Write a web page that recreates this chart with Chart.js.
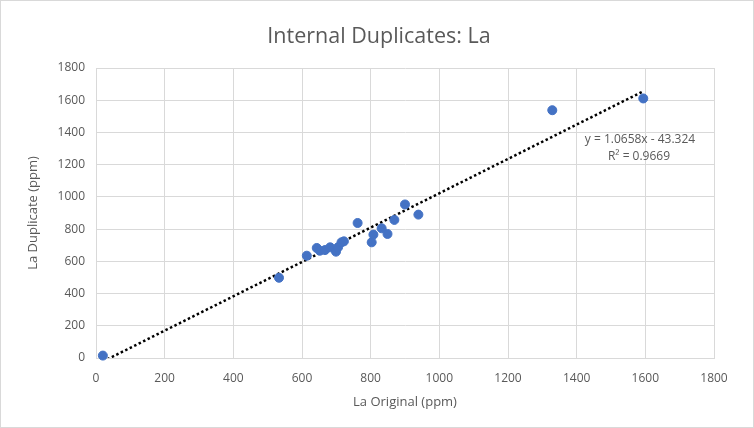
<!DOCTYPE html>
<html>
<head>
<meta charset="utf-8">
<script src="https://cdn.jsdelivr.net/npm/chart.js@4/dist/chart.umd.min.js"></script>
<style>
  html, body { margin: 0; padding: 0; background: #fff; }
  #wrap { position: relative; width: 752px; height: 426px; border: 1px solid #d9d9d9; }
</style>
</head>
<body>
<div id="wrap"><canvas id="dupChart" width="752" height="426"></canvas></div>
<script>
// Données
const originalPpm = [20, 533, 614, 643, 652, 667, 682, 699, 705, 715, 722, 762, 803, 808, 832, 849, 869, 900, 939, 1329, 1594]
const duplicatePpm = [15, 498, 635, 683, 666, 670, 687, 660, 687, 718, 724, 838, 718, 766, 805, 770, 857, 953, 890, 1538, 1611]
const axisTicks = [0, 200, 400, 600, 800, 1000, 1200, 1400, 1600, 1800]

// Courbe de tendance (Excel)
const trendSlope = 1.0658
const trendIntercept = -43.324
const trendLabel = ["y = 1.0658x - 43.324", "R² = 0.9669"]
const chartTitle = "Internal Duplicates: La"

const FONT = "'Open Sans', 'Liberation Sans', sans-serif"
const GREY = "#595959"

const points = originalPpm.map((x, i) => ({ x: x, y: duplicatePpm[i] }))
const xMin = Math.min(...originalPpm)
const xMax = Math.max(...originalPpm)
const trendPoints = [
  { x: xMin, y: trendSlope * xMin + trendIntercept },
  { x: xMax, y: trendSlope * xMax + trendIntercept },
]

// Titre centré sur toute la largeur + texte de l'équation
const textPlugin = {
  id: "texts",
  afterDatasetsDraw(chart) {
    const ctx = chart.ctx
    const area = chart.chartArea
    ctx.save()
    ctx.fillStyle = GREY
    ctx.textAlign = "center"
    ctx.textBaseline = "middle"
    ctx.font = "21.5px " + FONT
    ctx.fillText(chartTitle, chart.width / 2 + 2, 36)
    ctx.font = "12px " + FONT
    const cx = area.right - 74
    ctx.fillText(trendLabel[0], cx, area.top + 72)
    ctx.fillText(trendLabel[1], cx - 1, area.top + 89)
    ctx.restore()
  },
}

new Chart(document.getElementById("dupChart"), {
  type: "scatter",
  data: {
    datasets: [
      {
        label: "La",
        data: points,
        backgroundColor: "#4472C4",
        borderColor: "#4472C4",
        pointRadius: 4.5,
        pointHoverRadius: 4.5,
        clip: false,
        order: 1,
      },
      {
        label: "Tendance",
        type: "line",
        data: trendPoints,
        borderColor: "#000000",
        borderWidth: 2.5,
        borderDash: [2.5, 2.5],
        pointRadius: 0,
        fill: false,
        order: 2,
      },
    ],
  },
  options: {
    responsive: false,
    animation: false,
    layout: { padding: { left: 12, right: 39, top: 67, bottom: 6 } },
    plugins: {
      legend: { display: false },
      tooltip: { enabled: false },
      title: { display: false },
    },
    scales: {
      x: {
        type: "linear",
        min: 0,
        max: 1800,
        afterBuildTicks: (scale) => { scale.ticks = axisTicks.map((v) => ({ value: v })) },
        afterFit: (scale) => { scale.height = 63 },
        grid: { color: "#d9d9d9", drawTicks: false },
        border: { color: "#d9d9d9" },
        ticks: { color: GREY, font: { family: FONT, size: 12 }, padding: 13, callback: (v) => String(v) },
        title: {
          display: true,
          text: "La Original (ppm)",
          color: GREY,
          font: { family: FONT, size: 13 },
          padding: { top: 4, bottom: 11 },
        },
      },
      y: {
        type: "linear",
        min: 0,
        max: 1800,
        afterBuildTicks: (scale) => { scale.ticks = axisTicks.map((v) => ({ value: v })) },
        afterFit: (scale) => { scale.width = 83 },
        grid: { color: "#d9d9d9", drawTicks: false },
        border: { color: "#d9d9d9" },
        ticks: { color: GREY, font: { family: FONT, size: 12 }, padding: 11, callback: (v) => String(v) },
        title: {
          display: true,
          text: "La Duplicate (ppm)",
          color: GREY,
          font: { family: FONT, size: 13 },
          padding: { top: 12, bottom: 8 },
        },
      },
    },
  },
  plugins: [textPlugin],
})
</script>
</body>
</html>
